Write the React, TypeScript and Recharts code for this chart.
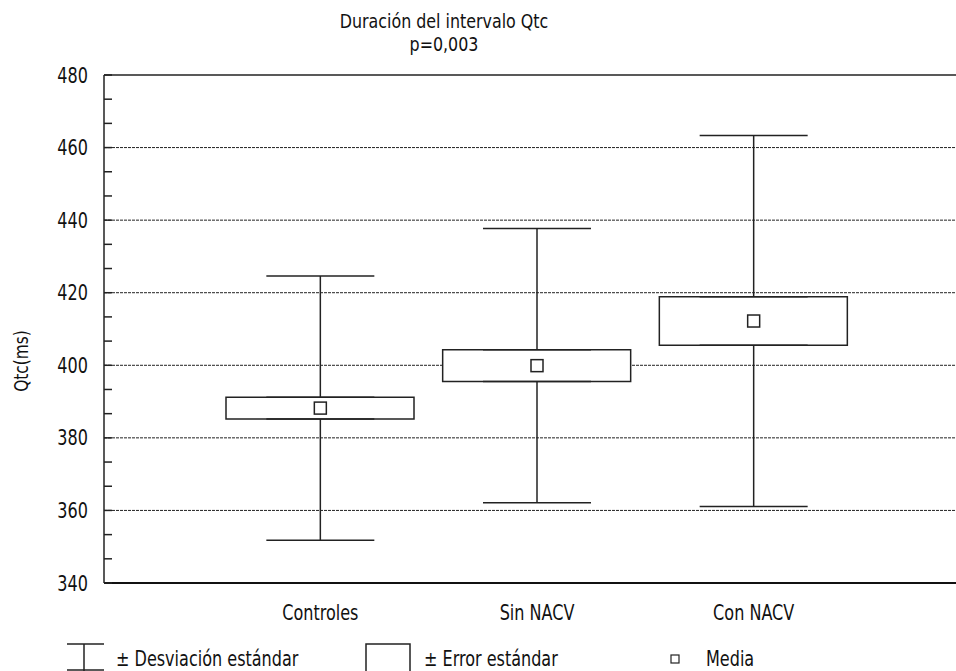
import React from "react";
import {
  ComposedChart,
  Bar,
  Scatter,
  ErrorBar,
  XAxis,
  YAxis,
  CartesianGrid,
  ReferenceLine,
} from "recharts";

// Qtc por grupo: media, desviación estándar y error estándar (ms)
const categories = ["Controles", "Sin NACV", "Con NACV"];
const means = [388.2, 399.9, 412.2];
const stdDevs = [36.4, 37.8, 51.1];
const stdErrs = [3.0, 4.4, 6.7];

const majorTicks = [340, 360, 380, 400, 420, 440, 460, 480];
const gridValues = [360, 380, 400, 420, 440, 460];

// minor ticks: two between each labelled value
const allTicks: number[] = [];
majorTicks.forEach((t, i) => {
  allTicks.push(t);
  if (i < majorTicks.length - 1) {
    allTicks.push(t + 20 / 3, t + 40 / 3);
  }
});

const isMajor = (v: number) => majorTicks.some((t) => Math.abs(t - v) < 0.01);

const data = categories.map((name, i) => ({
  name,
  mean: means[i],
  box: [means[i] - stdErrs[i], means[i] + stdErrs[i]],
  upperStart: means[i] + stdErrs[i],
  upperErr: [0, stdDevs[i] - stdErrs[i]],
  lowerStart: means[i] - stdErrs[i],
  lowerErr: [stdDevs[i] - stdErrs[i], 0],
}));

const FONT = "'DejaVu Sans Condensed', 'DejaVu Sans', sans-serif";
const INK = "#222";
const TXT = "#111";

// the original uses a narrow face; squeeze DejaVu Condensed horizontally
const Narrow = ({ x, y, sx = 0.85, size = 21, anchor = "start", dy = "0", children }: any) => (
  <text
    transform={`translate(${x},${y}) scale(${sx},1)`}
    textAnchor={anchor}
    dy={dy}
    fontSize={size}
    fill={TXT}
    fontFamily={FONT}
  >
    {children}
  </text>
);

const XTick = (props: any) => {
  const { x, y, payload } = props;
  return (
    <Narrow x={x} y={y} anchor="middle" dy="0.74em">
      {payload.value}
    </Narrow>
  );
};

const YTick = (props: any) => {
  const { x, y, payload } = props;
  if (!isMajor(payload.value)) return <g />;
  return (
    <Narrow x={x} y={y} anchor="end" dy="0.36em">
      {Math.round(payload.value)}
    </Narrow>
  );
};

const MeanSquare = (props: any) => {
  const { cx, cy } = props;
  if (cx == null || cy == null) return <g />;
  return (
    <rect x={cx - 6} y={cy - 6} width={12} height={12} fill="#fff" stroke={INK} strokeWidth={1.5} />
  );
};

const Nothing = () => <g />;

export default function App() {
  return (
    <div
      style={{
        position: "absolute",
        left: 0,
        top: 0,
        width: 956,
        height: 671,
        overflow: "hidden",
        background: "#fff",
      }}
    >
      <ComposedChart
        width={970}
        height={671}
        data={data}
        margin={{ top: 75, right: 0, bottom: 58, left: 0 }}
      >
        <CartesianGrid
          horizontal
          vertical={false}
          horizontalValues={gridValues}
          stroke="#222"
          strokeDasharray="3 1"
        />
        <ReferenceLine y={480} stroke={INK} strokeWidth={1.5} />
        <XAxis
          dataKey="name"
          type="category"
          padding={{ left: 108, right: 108 }}
          tickLine={false}
          axisLine={{ stroke: "#111", strokeWidth: 2 }}
          tickMargin={15}
          height={30}
          tick={XTick}
        />
        <YAxis
          type="number"
          domain={[340, 480]}
          ticks={allTicks}
          interval={0}
          width={104}
          tickSize={-8}
          tickMargin={24}
          tickLine={{ stroke: INK, strokeWidth: 1.5 }}
          axisLine={{ stroke: INK, strokeWidth: 1.5 }}
          tick={YTick}
        />
        <Scatter dataKey="upperStart" shape={Nothing} isAnimationActive={false}>
          <ErrorBar
            dataKey="upperErr"
            direction="y"
            width={54}
            stroke={INK}
            strokeWidth={1.5}
            isAnimationActive={false}
          />
        </Scatter>
        <Scatter dataKey="lowerStart" shape={Nothing} isAnimationActive={false}>
          <ErrorBar
            dataKey="lowerErr"
            direction="y"
            width={54}
            stroke={INK}
            strokeWidth={1.5}
            isAnimationActive={false}
          />
        </Scatter>
        <Bar
          dataKey="box"
          barSize={188}
          fill="#fff"
          stroke={INK}
          strokeWidth={1.5}
          isAnimationActive={false}
        />
        <Scatter dataKey="mean" shape={MeanSquare} isAnimationActive={false} />
      </ComposedChart>

      <svg
        width={956}
        height={671}
        style={{ position: "absolute", left: 0, top: 0, pointerEvents: "none" }}
      >
        <Narrow x={444} y={28} anchor="middle" size={19} sx={0.93}>
          Duración del intervalo Qtc
        </Narrow>
        <Narrow x={444} y={51} anchor="middle" size={19} sx={0.93}>
          p=0,003
        </Narrow>
        <text
          x={0}
          y={0}
          transform="translate(28,361) rotate(-90) scale(0.9,1)"
          textAnchor="middle"
          fontSize={19}
          fill={TXT}
          fontFamily={FONT}
        >
          Qtc(ms)
        </text>

        {/* Leyenda */}
        <g stroke={INK} strokeWidth={1.5} fill="none">
          <line x1={67} y1={644} x2={104} y2={644} />
          <line x1={84} y1={644} x2={84} y2={671} />
          <line x1={67} y1={670} x2={104} y2={670} />
          <rect x={366} y={644} width={44} height={30} fill="#fff" />
          <rect x={671} y={655} width={8} height={8} fill="#fff" strokeWidth={1.2} />
        </g>
        <Narrow x={116} y={666} size={21} sx={0.85}>
          ± Desviación estándar
        </Narrow>
        <Narrow x={424} y={666} size={21} sx={0.85}>
          ± Error estándar
        </Narrow>
        <Narrow x={706} y={666} size={21} sx={0.85}>
          Media
        </Narrow>
      </svg>
    </div>
  );
}
